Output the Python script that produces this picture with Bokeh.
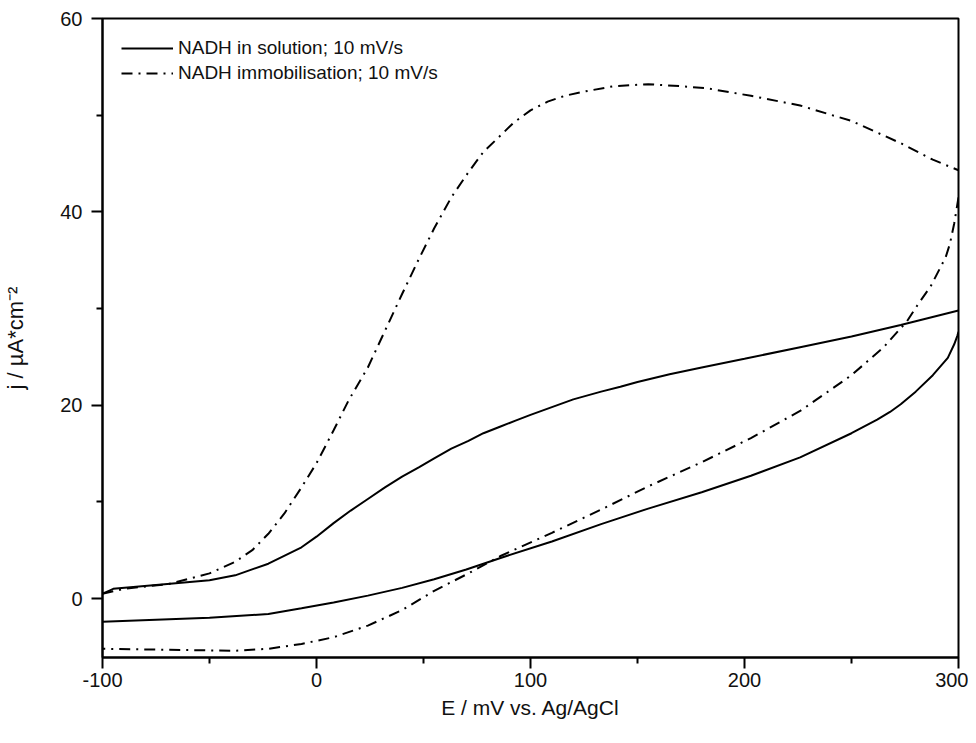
from bokeh.plotting import figure
from bokeh.models import FixedTicker, Range1d, Legend, LegendItem
from bokeh.embed import file_html
from bokeh.resources import INLINE

# --- Data ---
# NADH in solution; 10 mV/s  (forward / anodic sweep)
E_sol_fwd = [-100, -97, -95, -75, -50, -38, -22.5, -7, 0, 8, 16, 24, 32, 40, 48, 55, 63, 71, 78, 86, 93, 100,
             110, 120, 133, 142, 150, 165, 180, 200, 226, 250, 273, 300]
j_sol_fwd = [0.5, 0.8, 1.0, 1.4, 1.9, 2.4, 3.6, 5.3, 6.4, 7.8, 9.1, 10.3, 11.5, 12.6, 13.6, 14.5, 15.5, 16.3, 17.1, 17.8, 18.4, 19.0,
             19.8, 20.6, 21.4, 21.9, 22.4, 23.2, 23.9, 24.8, 26.0, 27.1, 28.3, 29.8]
# NADH in solution; 10 mV/s  (reverse sweep)
E_sol_rev = [300, 299.5, 298, 295, 288, 280, 273, 268, 262, 250, 226, 203, 180, 155, 133, 110, 86, 70, 55, 40, 24, 8,
             -7, -22.5, -50, -100]
j_sol_rev = [27.6, 27.2, 26.3, 24.9, 23.1, 21.4, 20.1, 19.3, 18.5, 17.1, 14.6, 12.7, 11.0, 9.3, 7.7, 5.9, 4.2, 3.0, 2.0, 1.1, 0.3, -0.4,
             -1.0, -1.6, -2.0, -2.4]

# NADH immobilisation; 10 mV/s  (forward sweep)
E_imm_fwd = [-100, -90, -69, -50, -38, -30, -22.5, -15, -7, 0, 8, 15, 24, 32, 40, 48, 55, 63, 71, 78, 86,
             92, 100, 108, 116, 124, 139, 155, 170, 182, 203, 226, 250, 273, 288, 300]
j_imm_fwd = [0.5, 1.0, 1.5, 2.6, 3.8, 5.0, 6.7, 8.8, 11.5, 14.0, 17.4, 20.5, 23.9, 27.7, 31.5, 35.2, 38.3, 41.5, 44.1, 46.2, 47.9,
             49.2, 50.5, 51.4, 52.0, 52.4, 53.0, 53.2, 53.0, 52.8, 52.0, 51.0, 49.4, 47.1, 45.4, 44.3]
# NADH immobilisation; 10 mV/s  (reverse sweep)
E_imm_rev = [300, 298, 296, 294, 287, 281, 276, 265, 250, 226, 203, 180, 155, 133, 110, 86, 71, 55,
             40, 24, 8, -7, -22.5, -38, -69, -100]
j_imm_rev = [41.5, 38.8, 36.7, 35.3, 32.3, 30.4, 28.7, 26.0, 23.1, 19.4, 16.6, 14.1, 11.6, 9.2, 6.8, 4.4, 2.6, 0.8,
             -1.2, -2.8, -4.0, -4.7, -5.2, -5.4, -5.3, -5.2]

x_ticks = [-100, 0, 100, 200, 300]
x_minor = [-50, 50, 150, 250]
y_ticks = [0, 20, 40, 60]
y_minor = [10, 30, 50]

legend_labels = ["NADH in solution; 10 mV/s", "NADH immobilisation; 10 mV/s"]

FONT = "Liberation Sans"

p = figure(width=968, height=735, output_backend="svg", toolbar_location=None,
           x_range=Range1d(-100, 300), y_range=Range1d(-6.1, 60),
           min_border_left=101, min_border_right=10, min_border_top=18, min_border_bottom=78)
p.grid.visible = False
p.background_fill_color = "white"
p.border_fill_color = "white"
p.outline_line_color = "black"
p.outline_line_width = 2

dash = "11 6 2 6"
r1 = p.line(E_sol_fwd, j_sol_fwd, line_color="black", line_width=2)
p.line(E_sol_rev, j_sol_rev, line_color="black", line_width=2)
r2 = p.line(E_imm_fwd, j_imm_fwd, line_color="black", line_width=2, line_dash=dash)
p.line(E_imm_rev, j_imm_rev, line_color="black", line_width=2, line_dash=dash)

for ax in (p.xaxis[0], p.yaxis[0]):
    ax.axis_line_width = 2
    ax.axis_line_color = "black"
    ax.major_tick_line_width = 2
    ax.minor_tick_line_width = 2
    ax.major_tick_in = 0
    ax.major_tick_out = 11
    ax.minor_tick_in = 0
    ax.minor_tick_out = 6
    ax.major_label_text_font = FONT
    ax.major_label_text_font_size = "20px"
    ax.major_label_text_color = "#111111"
    ax.axis_label_text_font = FONT
    ax.axis_label_text_font_size = "21px"
    ax.axis_label_text_font_style = "normal"
    ax.axis_label_text_color = "#111111"

p.yaxis[0].axis_label_text_font_size = "22px"
p.xaxis[0].ticker = FixedTicker(ticks=x_ticks, minor_ticks=x_minor)
p.yaxis[0].ticker = FixedTicker(ticks=y_ticks, minor_ticks=y_minor)
p.xaxis[0].major_label_overrides = {t: str(t) for t in x_ticks}
p.yaxis[0].major_label_overrides = {t: str(t) for t in y_ticks}
p.xaxis[0].axis_label = "E / mV vs. Ag/AgCl"
p.yaxis[0].axis_label = "j / µA*cm⁻²"
p.xaxis[0].major_label_standoff = 4
p.yaxis[0].major_label_standoff = 9
p.xaxis[0].axis_label_standoff = 6
p.yaxis[0].axis_label_standoff = 29

legend = Legend(items=[LegendItem(label=legend_labels[0], renderers=[r1]),
                       LegendItem(label=legend_labels[1], renderers=[r2])],
                location="top_left")
legend.border_line_color = None
legend.background_fill_alpha = 0
legend.margin = 19
legend.padding = 0
legend.spacing = 3
legend.glyph_width = 52
legend.glyph_height = 20
legend.label_height = 20
legend.label_standoff = 5
legend.label_text_font = FONT
legend.label_text_font_size = "19px"
legend.label_text_color = "#111111"
p.add_layout(legend)

open("out.html", "w").write(file_html(p, INLINE))
